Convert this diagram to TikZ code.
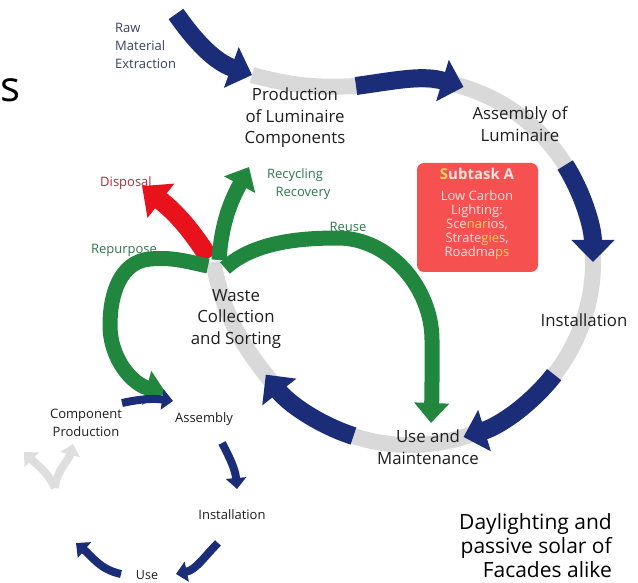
\documentclass[tikz,border=0pt]{standalone}
\usepackage{fontspec}
\setmainfont{Open Sans}
\usetikzlibrary{arrows.meta,calc}
\definecolor{navy}{RGB}{27,45,120}
\definecolor{band}{RGB}{217,217,217}
\definecolor{lgray}{RGB}{222,222,222}
\definecolor{grn}{RGB}{33,135,62}
\definecolor{rd}{RGB}{232,18,28}
\definecolor{boxred}{RGB}{247,80,80}
\definecolor{txt}{RGB}{30,30,30}
\definecolor{rawtxt}{RGB}{55,66,100}
\definecolor{grntxt}{RGB}{45,120,78}
\definecolor{dispo}{RGB}{178,42,62}
\definecolor{pinkw}{RGB}{255,228,224}
\definecolor{yel}{RGB}{255,212,95}
\begin{document}
\begin{tikzpicture}[x=1pt,y=1pt,
  bandline/.style={draw=band, line width=16pt},
  bigblue/.style={draw=navy, line width=18pt, -{Triangle[width=42pt,length=22pt]}},
  greenline/.style={draw=grn, line width=15pt},
  greenarr/.style={draw=grn, line width=15pt, -{Triangle[width=34pt,length=20pt]}},
  redarr/.style={draw=rd, line width=19pt, -{Triangle[width=42pt,length=24pt]}},
  smallblue/.style={draw=navy, line width=8pt, -{Triangle[width=20pt,length=11pt]}},
  smallgray/.style={draw=lgray, line width=8pt, -{Triangle[width=20pt,length=11pt]}},
  lbl/.style={font=\fontsize{16.8}{21.5}\selectfont, text=txt, align=center, inner sep=0pt},
  small/.style={font=\fontsize{13}{18}\selectfont, text=txt, align=center, inner sep=0pt},
  subbox/.style={fill=boxred, rounded corners=7pt, minimum width=121pt, minimum height=109pt, inner sep=0pt}
]
\useasboundingbox (0,0) rectangle (638,-583);
\clip (0,0) rectangle (638,-583);

% key points
\coordinate (C) at (410,-262);
\coordinate (J) at (213,-262);
\coordinate (rawS) at (176,-14);
\coordinate (rawT) at (252,-75);
\coordinate (b2S) at (356,-86);
\coordinate (b2T) at ($(C)+(73:183)$);
\coordinate (b3S) at ($(C)+(32:183)$);
\coordinate (b4S) at ($(C)+(-38:183)$);
\coordinate (b5S) at ($(C)+(-108:183)$);

% grey band of the main cycle
\draw[bandline] (rawT) to[out=-15,in=183] (b2S) to[out=8,in=163] (b2T)
  arc[start angle=73,end angle=-142,radius=183] to[out=128,in=-78] (J);

% blue arrows of the main cycle
\draw[bigblue] (rawS) to[out=-55,in=160] (rawT);
\draw[bigblue] (b2S) to[out=8,in=163] (b2T);
\draw[bigblue] (b3S) arc[start angle=32,end angle=0,radius=183];
\draw[bigblue] (b4S) arc[start angle=-38,end angle=-73,radius=183];
\draw[bigblue] (b5S) arc[start angle=-108,end angle=-142,radius=183];

% branches at the waste collection point
\coordinate (redS) at (209,-258);
\coordinate (redT) at (142,-186);
\coordinate (recS) at (219,-260);
\coordinate (recT) at (249,-167);
\coordinate (reuS) at (225,-268);
\coordinate (reuTop) at (338,-238);
\coordinate (reuM) at (432,-340);
\coordinate (reuT) at (431,-423);
\coordinate (repS) at (208,-266);
\coordinate (repTop) at (150,-259);
\coordinate (repM) at (110,-325);
\coordinate (repT) at (166,-393);
\draw[redarr] (redS) to[out=122,in=-38] (redT);
\draw[greenarr] (recS) to[out=86,in=-118] (recT);
\draw[greenline] (reuS) to[out=42,in=180,looseness=0.85] (reuTop) to[out=0,in=90,looseness=0.95] (reuM);
\draw[greenarr] (reuM) to[out=-90,in=88] (reuT);
\draw[greenline] (repS) to[out=168,in=5] (repTop) to[out=185,in=90] (repM);
\draw[greenarr] (repM) to[out=-90,in=165] (repT);

% small lower cycle
\coordinate (saS) at (122,-403);
\coordinate (saT) at (173,-401);
\coordinate (sbS) at (222,-443);
\coordinate (sbT) at (237,-489);
\coordinate (scS) at (218,-543);
\coordinate (scT) at (176,-574);
\coordinate (sdS) at (121,-574);
\coordinate (sdT) at (76,-543);
\coordinate (sg0) at (55,-488);
\coordinate (sgL) at (24,-452);
\coordinate (sgR) at (73,-444);
\draw[smallblue] (saS) to[out=12,in=172] (saT);
\draw[smallblue] (sbS) to[out=-62,in=95] (sbT);
\draw[smallblue] (scS) to[out=-135,in=12] (scT);
\draw[smallblue] (sdS) to[out=168,in=-40] (sdT);
\draw[smallgray] (sg0) to[out=115,in=-45] (sgL);
\draw[smallgray] (sg0) to[out=85,in=-105] (sgR);

% subtask box
\node[subbox] (sub) at (477.5,-217.5) {};
\node[font=\fontsize{13}{14}\selectfont, text=pinkw, align=center, inner sep=0pt] (subtxt) at (477,-214)
  {{\fontsize{15}{14}\selectfont\bfseries\textcolor{yel}{S}ubtask A}\\[7pt]
   Low Carbon\\Lighting:\\Sce\textcolor{yel}{nar}ios,\\Strate\textcolor{yel}{gie}s,\\Roadma\textcolor{yel}{ps}};

% labels
\node[font=\fontsize{42}{46}\selectfont, text=black, inner sep=0pt, anchor=west] (title) at (0,-90) {s};
\node[font=\fontsize{13}{18}\selectfont, text=rawtxt, align=left, inner sep=0pt, anchor=west] (raw) at (115,-46) {Raw\\Material\\Extraction};
\node[lbl] (prod) at (295,-118) {Production\\of Luminaire\\Components};
\node[lbl] (assy) at (520,-124) {Assembly of\\Luminaire};
\node[lbl] (inst) at (584,-320) {Installation};
\node[lbl] (use) at (428,-447) {Use and\\Maintenance};
\node[lbl] (waste) at (236,-319) {Waste\\Collection\\and Sorting};
\node[small, text=dispo] (disp) at (126,-183) {Disposal};
\node[small, text=grntxt] (recy) at (295,-184.5) {Recycling\\\hspace*{16pt}Recovery};
\node[small, text=grntxt] (reuse) at (348,-227) {Reuse};
\node[small, text=grntxt] (repur) at (124,-250) {Repurpose};
\node[small] (comp) at (86,-423) {Component\\Production};
\node[small] (sassy) at (204,-419) {Assembly};
\node[small] (sinst) at (232,-515) {Installation};
\node[font=\fontsize{12.5}{16}\selectfont, text=txt, inner sep=0pt, anchor=base] (suse) at (147,-579) {Use};
\node[font=\fontsize{21}{24}\selectfont, text=black, align=right, inner sep=0pt, anchor=base east] (day) at (612,-577) {Daylighting and\\passive solar of\\Facades alike};
\end{tikzpicture}
\end{document}
